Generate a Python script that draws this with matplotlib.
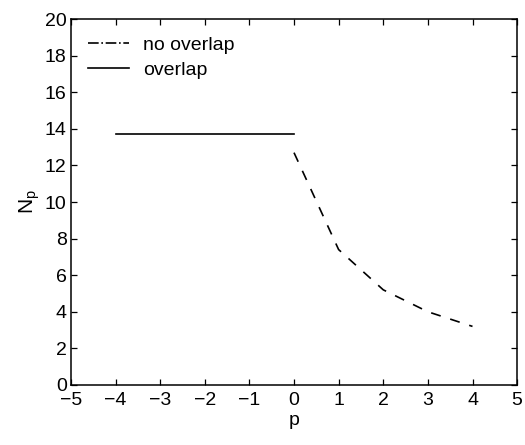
import matplotlib
matplotlib.use("Agg")
import matplotlib.pyplot as plt

plt.rcParams['font.family'] = ['Liberation Sans', 'DejaVu Sans']

# overlap case: constant value for negative p
p_overlap = [-4, 0]
n_overlap = [13.7, 13.7]

# no overlap case
p_no = [0, 1, 2, 3, 4]
n_no = [12.7, 7.4, 5.2, 4.0, 3.2]

fig = plt.figure(figsize=(5.25, 4.45), dpi=100)
ax = fig.add_axes([0.135, 0.135, 0.85, 0.822])

ax.plot(p_no, n_no, color='black', lw=1.2, dashes=(6, 6), label='_nolegend_')
ax.plot(p_overlap, n_overlap, color='black', lw=1.2, label='_nolegend_')

# legend samples (dash-dot for "no overlap" as in the original)
h1, = ax.plot([], [], color='black', lw=1.2, linestyle='-.')
h2, = ax.plot([], [], color='black', lw=1.2, linestyle='-')
ax.legend([h1, h2], ['no overlap', 'overlap'], loc='upper left', frameon=False,
          fontsize=14, handlelength=2.1, handletextpad=0.7,
          borderaxespad=0.5, labelspacing=0.35)

ax.set_xlim(-5, 5)
ax.set_ylim(0, 20)
ax.set_xticks(range(-5, 6))
ax.set_yticks(range(0, 21, 2))
ax.set_xticklabels(['\u2212%d' % abs(v) if v < 0 else str(v) for v in range(-5, 6)])
ax.tick_params(direction='in', top=True, right=True, labelsize=14, length=4, width=0.9)
ax.tick_params(axis='x', pad=5)
ax.tick_params(axis='y', pad=3)
for s in ax.spines.values():
    s.set_linewidth(1.1)

ax.set_xlabel('p', fontsize=14, labelpad=2)
ax.set_ylabel('N$_\\mathregular{p}$', fontsize=15, labelpad=2)

fig.savefig('out.png', dpi=100)
